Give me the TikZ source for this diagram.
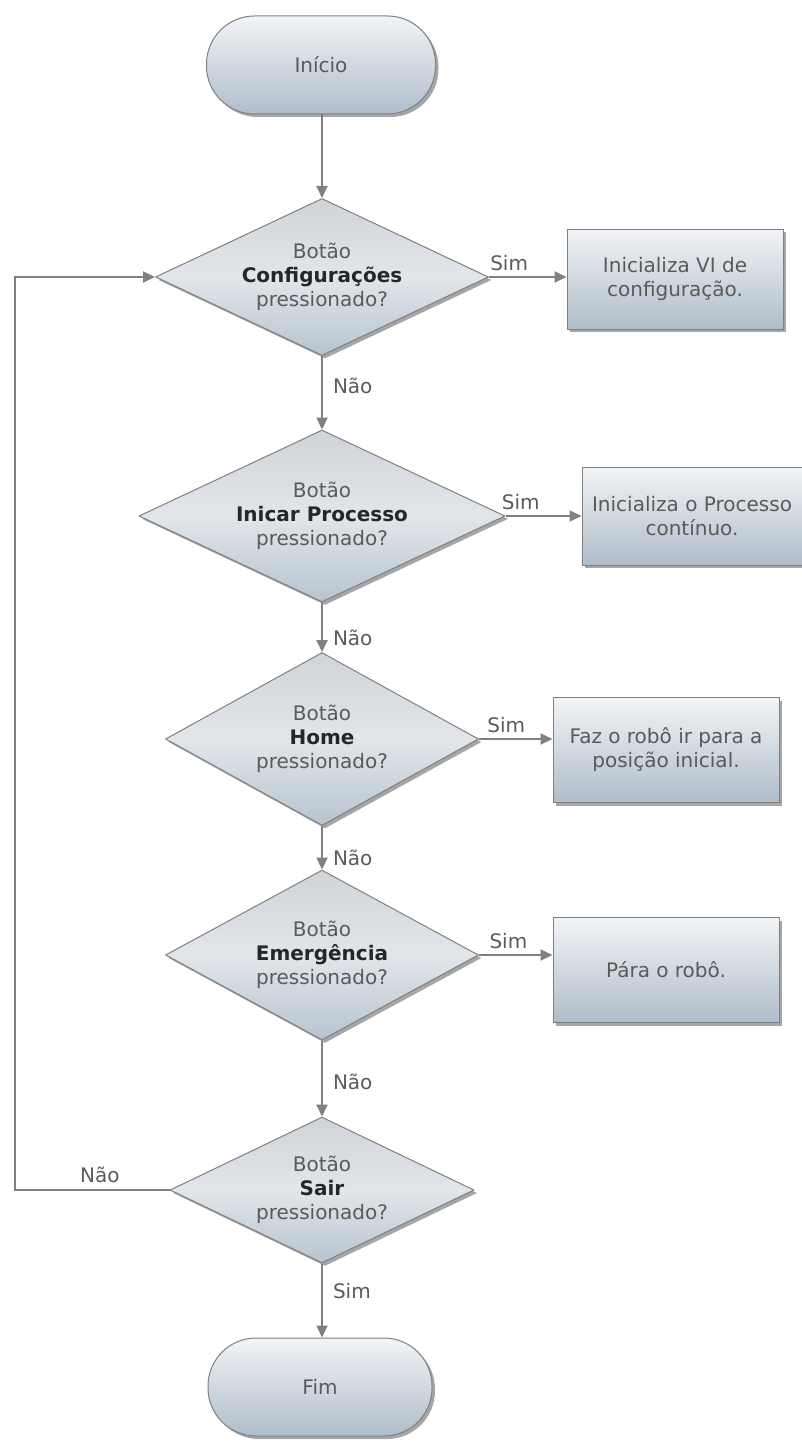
\documentclass[tikz,border=0pt]{standalone}
\usepackage{fontspec}
\setmainfont{DejaVu Sans}
\usetikzlibrary{shapes.geometric,shadows,arrows.meta}
\definecolor{linegray}{HTML}{808080}
\definecolor{txtgray}{HTML}{5A5A5A}
\definecolor{filltop}{HTML}{F2F4F6}
\definecolor{fillbot}{HTML}{AFBDCA}
\definecolor{dtop}{HTML}{D0D4D8}
\definecolor{dmid}{HTML}{E2E6EA}
\definecolor{dbot}{HTML}{B6C4D0}
\tikzset{
  base/.style={draw=linegray, line width=1pt,
    drop shadow={shadow xshift=3pt, shadow yshift=-3pt, fill=black, opacity=.35},
    text=txtgray, font=\fontsize{20}{24}\selectfont, align=center, inner sep=0pt},
  terminal/.style={base, top color=filltop, bottom color=fillbot, rectangle, rounded corners=48pt, minimum width=229pt, minimum height=98pt},
  decision/.style={base, top color=dtop, bottom color=dbot, middle color=dmid, diamond},
  dtext/.style={text=txtgray, font=\fontsize{20}{24}\selectfont, align=center, inner sep=0pt},
  procbox/.style={base, top color=filltop, bottom color=fillbot, rectangle, minimum width=216pt, minimum height=100pt},
  flow/.style={draw=linegray, line width=2pt, -{Triangle[length=12pt,width=11pt]}},
  lbl/.style={text=txtgray, font=\fontsize{20}{24}\selectfont, inner sep=2pt},
}
\newcommand{\bt}[1]{{\color{black!85}\bfseries #1}}
\begin{document}
\begin{tikzpicture}[x=1pt,y=-1pt]
\useasboundingbox (0,0) rectangle (802,1442);

\node[terminal] (ini) at (321,65) {Início};

\node[decision, minimum height=157pt, minimum width=333pt,
  label={[dtext]center:{Botão\\\bt{Configurações}\\pressionado?}}] (d1) at (322,277) {};
\node[procbox] (b1) at (675,279) {Inicializa VI de\\configuração.};

\node[decision, minimum height=172pt, minimum width=366pt,
  label={[dtext]center:{Botão\\\bt{Inicar Processo}\\pressionado?}}] (d2) at (322,516) {};
\node[procbox, minimum width=220pt, minimum height=98pt] (b2) at (692,516) {Inicializa o Processo\\contínuo.};

\node[decision, minimum height=173pt, minimum width=313pt,
  label={[dtext]center:{Botão\\\bt{Home}\\pressionado?}}] (d3) at (322,739) {};
\node[procbox, minimum width=226pt, minimum height=105pt] (b3) at (666,750) {Faz o robô ir para a\\posição inicial.};

\node[decision, minimum height=170pt, minimum width=313pt,
  label={[dtext]center:{Botão\\\bt{Emergência}\\pressionado?}}] (d4) at (322,955) {};
\node[procbox, minimum width=226pt, minimum height=105pt] (b4) at (666,970) {Pára o robô.};

\node[decision, minimum height=146pt, minimum width=304pt,
  label={[dtext]center:{Botão\\\bt{Sair}\\pressionado?}}] (d5) at (322,1190) {};

\node[terminal, minimum width=224pt] (fim) at (320,1387) {Fim};

\coordinate (lb) at (15,1190);

\draw[flow] (ini.south -| d1.north) -- (d1.north);
\draw[flow] (d1.east) -- node[lbl, pos=0.26, above=3pt] {Sim} (d1.east -| b1.west);
\draw[flow] (d1.south) -- node[lbl, pos=0.4, right=8pt] {Não} (d2.north);
\draw[flow] (d2.east) -- node[lbl, pos=0.2, above=3pt] {Sim} (d2.east -| b2.west);
\draw[flow] (d2.south) -- node[lbl, pos=0.72, right=8pt] {Não} (d3.north);
\draw[flow] (d3.east) -- node[lbl, pos=0.37, above=3pt] {Sim} (d3.east -| b3.west);
\draw[flow] (d3.south) -- node[lbl, pos=0.73, right=8pt] {Não} (d4.north);
\draw[flow] (d4.east) -- node[lbl, pos=0.4, above=3pt] {Sim} (d4.east -| b4.west);
\draw[flow] (d4.south) -- node[lbl, pos=0.54, right=8pt] {Não} (d5.north);
\draw[flow] (d5.south) -- node[lbl, pos=0.37, right=8pt] {Sim} (fim.north -| d5.south);
\draw[flow] (d5.west) -- node[lbl, pos=0.45, above=4pt] {Não} (lb) |- (d1.west);
\end{tikzpicture}
\end{document}
